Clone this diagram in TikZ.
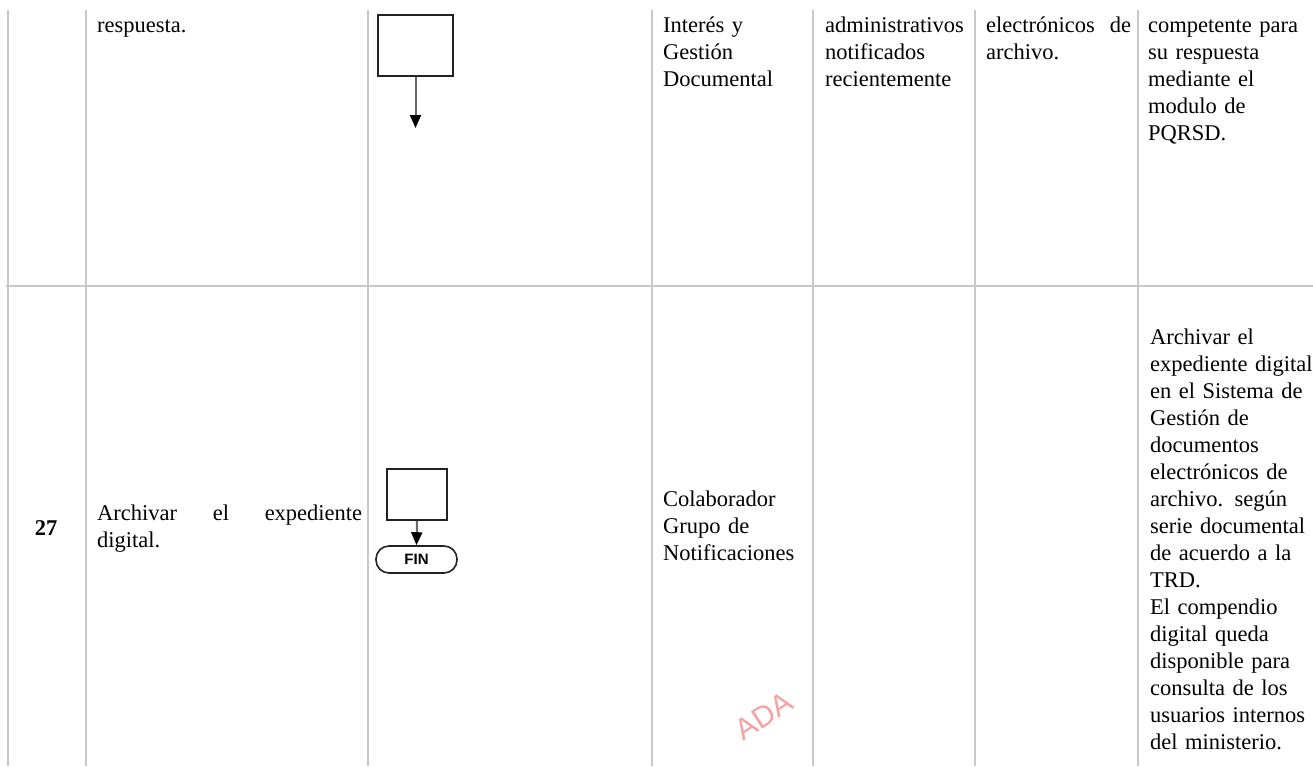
\documentclass[tikz,border=0pt]{standalone}
\usepackage{fontspec}
\setmainfont{Liberation Serif}
\newfontfamily\finfont{Liberation Sans}
\usetikzlibrary{arrows.meta}
\definecolor{gridgray}{HTML}{C8C8C8}
\definecolor{boxline}{HTML}{222222}
\definecolor{arrline}{HTML}{6A6A6A}
\definecolor{wmark}{HTML}{F4A3A3}
\begin{document}
\begin{tikzpicture}[x=1pt,y=-1pt,
  gridline/.style={draw=gridgray, line width=2pt},
  txt/.style={anchor=base west, inner sep=0pt, align=left, font=\fontsize{22.5}{27}\selectfont},
  fbox/.style={draw=boxline, line width=1.8pt, fill=white, inner sep=0pt},
  flowarrow/.style={draw=arrline, line width=2pt, -{Triangle[length=13pt,width=11pt,fill=black,color=black]}},
  terminal/.style={draw=boxline, line width=1.6pt, rounded corners=13pt, inner sep=0pt, font=\finfont\bfseries\fontsize{15}{15}\selectfont}
]
\useasboundingbox (0,0) rectangle (1313,766);
% grid
\coordinate (g1t) at (8,10);     \coordinate (g1b) at (8,766);
\coordinate (g2t) at (86,10);    \coordinate (g2b) at (86,766);
\coordinate (g3t) at (368,10);   \coordinate (g3b) at (368,766);
\coordinate (g4t) at (652,10);   \coordinate (g4b) at (652,766);
\coordinate (g5t) at (813,10);   \coordinate (g5b) at (813,766);
\coordinate (g6t) at (975,10);   \coordinate (g6b) at (975,766);
\coordinate (g7t) at (1138,10);  \coordinate (g7b) at (1138,766);
\coordinate (hl) at (6,286);     \coordinate (hr) at (1313,286);
\foreach \i in {1,...,7} {\draw[gridline] (g\i t) -- (g\i b);}
\draw[gridline] (hl) -- (hr);

% top row texts
\node[txt] (t2) at (97,32) {respuesta.};
\node[txt, text width=145pt] (t4) at (663,32) {Interés y\\Gestión\\Documental};
\node[txt, text width=150pt] (t5) at (825,32) {administrativos\\notificados\\recientemente};
\node[txt, text width=145pt] (t6) at (986,32) {electrónicos\hfill de\\archivo.};
\node[txt, text width=163pt] (t7) at (1148,32) {competente para\\su respuesta\\mediante el\\modulo de\\PQRSD.};

% top flow fragment
\node[fbox, minimum width=75pt, minimum height=61pt] (b1) at (415.5,45.5) {};
\coordinate (b1end) at (415.5,128);
\draw[flowarrow] (b1.south) -- (b1end);

% bottom row texts
\node[anchor=base, inner sep=0pt, font=\fontsize{22.5}{27}\selectfont\bfseries] (n27) at (46,535) {27};
\node[txt, text width=265pt] (a2) at (97,520) {Archivar\hfill el\hfill expediente\\digital.};
\node[txt, text width=150pt] (a4) at (663,506) {Colaborador\\Grupo de\\Notificaciones};
\node[txt, text width=163pt] (a7) at (1150,344) {Archivar el\\expediente digital\\en el Sistema de\\Gestión de\\documentos\\electrónicos de\\archivo. según\\serie documental\\de acuerdo a la\\TRD.\\El compendio\\digital queda\\disponible para\\consulta de los\\usuarios internos\\del ministerio.};

% bottom flow fragment
\node[fbox, minimum width=60pt, minimum height=51pt] (b2) at (417,494.5) {};
\node[terminal, minimum width=81pt, minimum height=27pt] (fin) at (416.5,559.5) {FIN};
\draw[flowarrow] (b2.south) -- (fin.north);

% watermark fragment
\node[text=wmark, font=\finfont\fontsize{30}{30}\selectfont, rotate=33, inner sep=0pt] (wm) at (764,716) {ADA};
\end{tikzpicture}
\end{document}
